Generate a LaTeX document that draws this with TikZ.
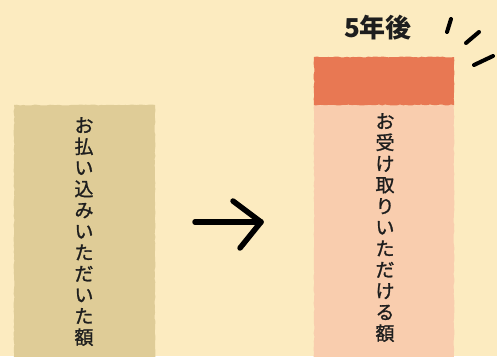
\documentclass[tikz,border=0pt]{standalone}
\usepackage{fontspec}
\newfontfamily\cjk[FakeBold=1.2]{Noto Sans CJK JP}
\newfontfamily\cjkb{Noto Sans CJK JP}
\usetikzlibrary{decorations.pathmorphing}
\definecolor{bgcol}{HTML}{FCEBC0}
\definecolor{paycol}{HTML}{DFCC97}
\definecolor{topcol}{HTML}{E87853}
\definecolor{recvcol}{HTML}{F9CDAE}
\definecolor{inkcol}{HTML}{1E1E1E}
\tikzset{
  bar/.style={decorate, decoration={random steps, segment length=3pt, amplitude=0.5pt}},
  vtext/.style={align=center, inner sep=0pt, anchor=north, text=inkcol,
    font=\cjk\fontsize{19}{21.2}\selectfont},
  ink/.style={draw=black, line width=5.5pt, line cap=round, line join=round},
  spark/.style={draw=black, line width=4pt, line cap=round}
}
\begin{document}
\begin{tikzpicture}[x=1pt, y=-1pt]
\fill[bgcol] (0,0) rectangle (497,356);
\useasboundingbox (0,0) rectangle (497,356);
% bars
\fill[paycol, bar] (14,105) -- (155,105) -- (155,360) -- (14,360) -- cycle;
\fill[recvcol, bar] (314,105) -- (454,105) -- (454,360) -- (314,360) -- cycle;
\fill[topcol, bar] (314,57) -- (454,57) -- (454,105) -- (314,105) -- cycle;
% texts
\node[vtext] (pay) at (84,117) {お\\払\\い\\込\\み\\い\\た\\だ\\い\\た\\額};
\node[vtext] (recv) at (385,113) {お\\受\\け\\取\\り\\い\\た\\だ\\け\\る\\額};
\node[text=inkcol, font=\cjkb\bfseries\fontsize{26}{28}\selectfont, inner sep=0pt] (yr) at (378,28) {5年後};
% arrow
\coordinate (a0) at (195,222);
\coordinate (a1) at (261,222);
\coordinate (h1) at (233,201);
\coordinate (h2) at (240,248);
\draw[ink] (a0) -- (a1);
\draw[ink] (h1) -- (a1) -- (h2);
% sparks
\coordinate (s1a) at (451,19);
\coordinate (s1b) at (447,32);
\coordinate (s2a) at (479,32);
\coordinate (s2b) at (466,43);
\coordinate (s3a) at (493,56);
\coordinate (s3b) at (474,65);
\draw[spark] (s1a) -- (s1b);
\draw[spark] (s2a) -- (s2b);
\draw[spark] (s3a) -- (s3b);
\end{tikzpicture}
\end{document}
